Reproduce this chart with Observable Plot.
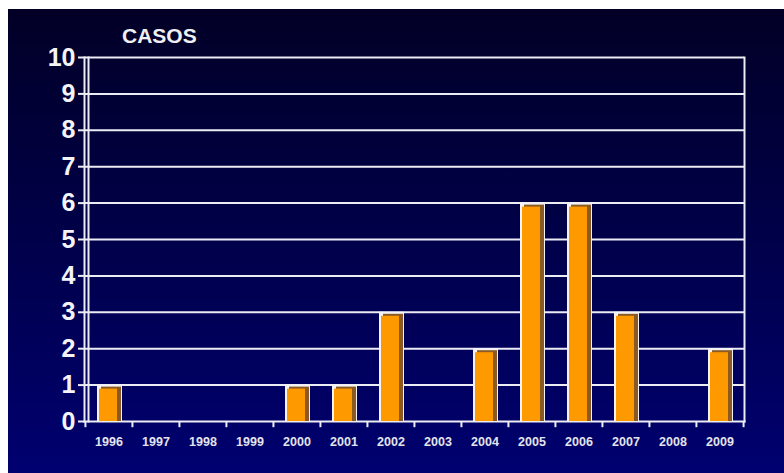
<!DOCTYPE html>
<html>
<head>
<meta charset="utf-8">
<script src="https://cdn.jsdelivr.net/npm/d3@7"></script>
<script src="https://cdn.jsdelivr.net/npm/@observablehq/plot@0.6"></script>
<style>
  html, body { margin: 0; padding: 0; background: #ffffff; }
  #panel {
    position: absolute; left: 8px; top: 9px; width: 776px; height: 464px;
    background: linear-gradient(180deg, #020026 0%, #00004a 50%, #000070 100%);
    overflow: hidden;
  }
  #title {
    position: absolute; left: 114px; top: 16px;
    font: bold 21px/21px "Liberation Sans", Arial, sans-serif;
    color: #f0f0f4;
  }
  #chart { position: absolute; left: 0; top: 0; }
</style>
</head>
<body>
<div id="panel">
  <div id="title">CASOS</div>
  <div id="chart"></div>
</div>
<script>
const years = ["1996","1997","1998","1999","2000","2001","2002","2003","2004","2005","2006","2007","2008","2009"];
const casos = [1, 0, 0, 0, 1, 1, 3, 0, 2, 6, 6, 3, 0, 2];
const yTicks = [0,1,2,3,4,5,6,7,8,9,10];

const data = years.map((y, i) => ({year: y, value: casos[i]}));
const bars = data.filter(d => d.value > 0);

const W = 776, H = 464, mL = 76, mR = 40, mT = 48, mB = 52;
const bw = (W - mL - mR) / years.length;

const chart = Plot.plot({
  width: W,
  height: H,
  marginLeft: mL,
  marginRight: mR,
  marginTop: mT,
  marginBottom: mB,
  style: {background: "transparent", color: "white", fontFamily: "'Liberation Sans', Arial, sans-serif"},
  x: {type: "band", domain: years, padding: 0},
  y: {domain: [0, 10]},
  marks: [
    Plot.gridY(yTicks.filter(t => t > 0), {stroke: "#ececf4", strokeOpacity: 1, strokeWidth: 2}),
    Plot.frame({anchor: "left", stroke: "#ececf4", strokeWidth: 2}),
    Plot.frame({anchor: "left", stroke: "#ececf4", strokeWidth: 2, dx: 4}),
    Plot.frame({anchor: "right", stroke: "#ececf4", strokeWidth: 2}),
    Plot.frame({anchor: "bottom", stroke: "#ececf4", strokeWidth: 2}),
    Plot.barY(bars, {x: "year", y: "value", fill: "#f4f4f8", insetLeft: 12, insetRight: 10}),
    Plot.barY(bars, {x: "year", y: "value", fill: "#8a5a22", insetLeft: 16, insetRight: 11, insetTop: 2}),
    Plot.barY(bars, {x: "year", y: "value", fill: "#ff9900", insetLeft: 14, insetRight: 15, insetTop: 4}),
    Plot.ruleX(years, {x: d => d, y1: 0, y2: -0.17, stroke: "#ececf4", strokeWidth: 2, dx: -bw / 2}),
    Plot.ruleX([years[years.length - 1]], {x: d => d, y1: 0, y2: -0.17, stroke: "#ececf4", strokeWidth: 2, dx: bw / 2}),
    Plot.axisY(yTicks, {tickSize: 6, tickPadding: 3, fontSize: 25, fontWeight: "bold", stroke: "#ececf4", strokeWidth: 2, label: null, fill: "#f4f4f8"}),
    Plot.axisX({tickSize: 0, tickPadding: 16, fontSize: 12.5, fontWeight: "bold", label: null, fill: "#e4e4ec"})
  ]
});
document.getElementById("chart").appendChild(chart);
</script>
</body>
</html>
